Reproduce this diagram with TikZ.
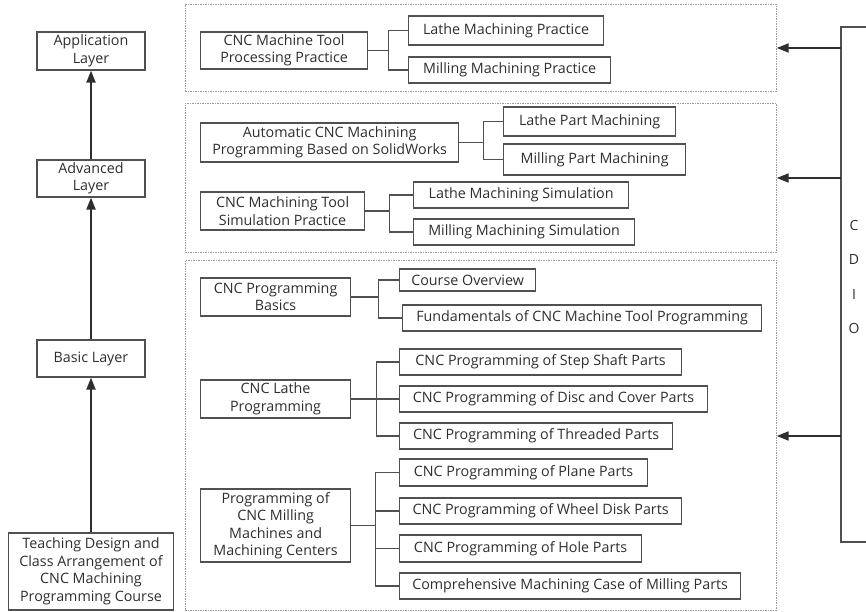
\documentclass[tikz,border=0pt]{standalone}
\usepackage{fontspec}
\setmainfont{Open Sans}
\usetikzlibrary{arrows.meta,positioning,calc}
\definecolor{ink}{HTML}{2E2E2E}
\definecolor{rim}{HTML}{505050}
\definecolor{dashgray}{HTML}{9C9C9C}
\newcommand\boxfont{\fontsize{14.3}{17.5}\selectfont}
\tikzset{
  layer/.style ={draw=rim,line width=1.2pt,align=center,text=ink,font=\boxfont,inner sep=0pt,minimum width=108pt},
  hub/.style   ={draw=rim,line width=1.2pt,align=center,text=ink,font=\boxfont,anchor=west,inner sep=0pt},
  leaf/.style  ={draw=rim,line width=1.2pt,text=ink,font=\boxfont,anchor=west,inner sep=0pt},
  panel/.style ={draw=dashgray,dash pattern=on 1.5pt off 1pt,line width=0.7pt,anchor=north west,inner sep=0pt},
  tie/.style   ={draw=rim,line width=1.2pt},
  flow/.style  ={draw=ink,line width=2pt,-{Triangle[length=12pt,width=9pt]}},
}

\begin{document}
\begin{tikzpicture}[x=1pt,y=-1pt]
  \useasboundingbox (0,0) rectangle (866,612);
  % layers on the left
  \node[layer,minimum height=38] (app)   at (91,51)    {Application\\Layer};
  \node[layer,minimum height=37] (adv)   at (91,178.5) {Advanced\\Layer};
  \node[layer,minimum height=37] (basic) at (91,358.5) {Basic Layer};
  \node[layer,minimum width=165,minimum height=77] (teach) at (91,571.5)
    {Teaching Design and\\Class Arrangement of\\CNC Machining\\Programming Course};
  \draw[flow] (teach.north) -- (basic.south);
  \draw[flow] (basic.north) -- (adv.south);
  \draw[flow] (adv.north) -- (app.south);
  % dashed groups
  \node[panel,minimum width=591,minimum height=87]  (p1) at (185,4)   {};
  \node[panel,minimum width=591,minimum height=149] (p2) at (185,103) {};
  \node[panel,minimum width=591,minimum height=350] (p3) at (185,260) {};
  % modules
  \node[hub,minimum width=167,minimum height=37] (cmt)  at (200,50.5)
    {CNC Machine Tool\\Processing Practice};
  \node[hub,minimum width=258,minimum height=39] (auto) at (200,142.5)
    {Automatic CNC Machining\\Programming Based on SolidWorks};
  \node[hub,minimum width=164,minimum height=38] (sim)  at (200,211)
    {CNC Machining Tool\\Simulation Practice};
  \node[hub,minimum width=150,minimum height=38] (bas)  at (200,297)
    {CNC Programming\\Basics};
  \node[hub,minimum width=150,minimum height=38] (lat)  at (200,399)
    {CNC Lathe\\Programming};
  \node[hub,minimum width=150,minimum height=73] (mil)  at (200,525.5)
    {Programming of\\CNC Milling\\Machines and\\Machining Centers};
  % topics
  \foreach \n/\x/\y/\w/\h/\t in {
    lmp/408/30.5/195/29/Lathe Machining Practice,
    mmp/408/70/202/26/Milling Machining Practice,
    lpm/503/121.5/172/29/Lathe Part Machining,
    mpm/503/159.5/182/31/Milling Part Machining,
    lms/413/195/215/26/Lathe Machining Simulation,
    mms/413/232/221/26/Milling Machining Simulation,
    co/399/280/136/22/Course Overview,
    fun/402/318/359/26/Fundamentals of CNC Machine Tool Programming,
    ss/399/362/282/26/CNC Programming of Step Shaft Parts,
    dc/399/399/308/26/CNC Programming of Disc and Cover Parts,
    th/399/436/273/26/CNC Programming of Threaded Parts,
    pl/399/472.5/248/27/CNC Programming of Plane Parts,
    wd/399/511/282/26/CNC Programming of Wheel Disk Parts,
    ho/399/548.5/242/27/CNC Programming of Hole Parts,
    cm/399/586/341/26/Comprehensive Machining Case of Milling Parts}
    \node[leaf,minimum width=\w,minimum height=\h] (\n) at (\x,\y) {\t};
  \foreach \p/\d/\kids in {cmt/20/{lmp,mmp},auto/24/{lpm,mpm},sim/24/{lms,mms},
                           bas/27/{co,fun},lat/25/{ss,dc,th},mil/24/{pl,wd,ho,cm}}{
    \coordinate (j) at ($(\p.east)+(\d,0)$);
    \draw[tie] (\p.east) -- (j);
    \foreach \k in \kids {\draw[tie] (j) |- (\k.west);}
  }
  % CDIO bracket
  \draw[tie] (866,27) -- (841,27) -- (841,542) -- (866,542);
  \node[text=ink,align=center,font=\fontsize{14}{34.5}\selectfont] (cdio) at (854,277) {C\\D\\I\\O};
  \foreach \y/\p in {48/p1,178/p2,436/p3}{
    \coordinate (s\p) at (841,\y);
    \draw[flow] (s\p) -- (s\p -| \p.east);
  }
\end{tikzpicture}
\end{document}
